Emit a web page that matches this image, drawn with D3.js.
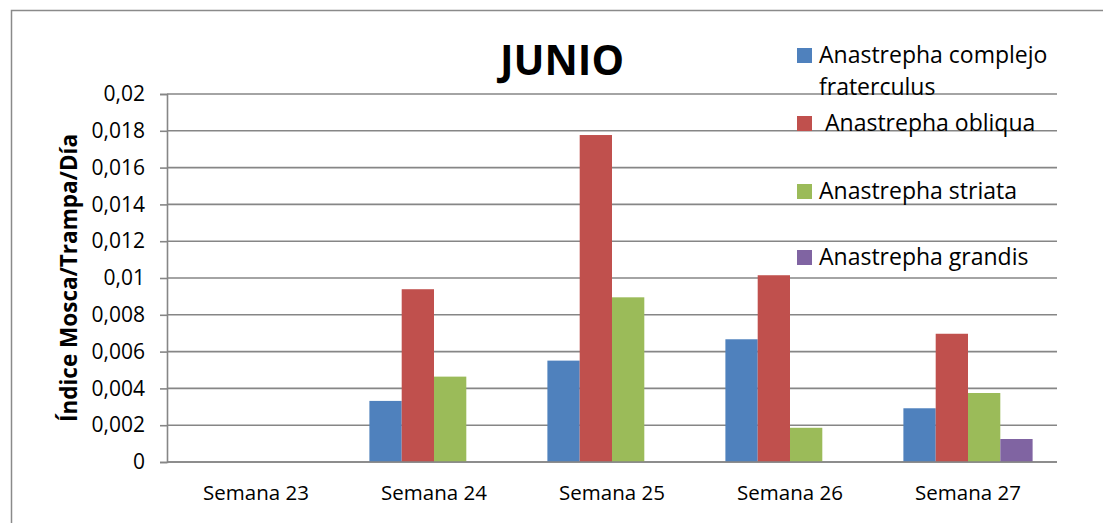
<!DOCTYPE html>
<html>
<head>
<meta charset="utf-8">
<script src="https://cdn.jsdelivr.net/npm/d3@7"></script>
<style>
  body { margin: 0; background: #fff; }
  text { font-family: "Open Sans", sans-serif; fill: #000; }
</style>
</head>
<body>
<script>
// data
var weeks = ["Semana 23", "Semana 24", "Semana 25", "Semana 26", "Semana 27"];
var seriesNames = ["Anastrepha complejo fraterculus", "Anastrepha obliqua", "Anastrepha striata", "Anastrepha grandis"];
var fraterculus = [0, 0.00332, 0.00551, 0.00667, 0.00292];
var obliqua     = [0, 0.00939, 0.01777, 0.01015, 0.00697];
var striata     = [0, 0.00464, 0.00895, 0.00186, 0.00375];
var grandis     = [0, 0, 0, 0, 0.00125];
var yTicks = [0, 0.002, 0.004, 0.006, 0.008, 0.01, 0.012, 0.014, 0.016, 0.018, 0.02];
var colors = ["#4F81BD", "#C0504D", "#9BBB59", "#8064A2"];

window.onload = function(){
    var w = 1103, h = 523;
    var left = 167, right = 1057, top = 94, bottom = 462;

    var svg = d3.select("body").append("svg")
        .attr("width", w)
        .attr("height", h);

    // outer chart frame (only left and top edges are visible)
    svg.append("path")
        .attr("d", "M11.5," + h + "V10.5H" + (w + 2))
        .attr("fill", "none")
        .attr("stroke", "#8a8a8a")
        .attr("stroke-width", 1.5);

    var allSeries = [fraterculus, obliqua, striata, grandis];

    var x0 = d3.scaleBand().domain(weeks).range([left, right]).padding(0);
    var x1 = d3.scaleBand().domain(d3.range(seriesNames.length))
        .range([0, x0.bandwidth()])
        .paddingInner(0)
        .paddingOuter(0.755);
    var y = d3.scaleLinear().domain([0, 0.02]).range([bottom, top]);

    var locale = d3.formatLocale({decimal: ",", thousands: ".", grouping: [3], currency: ["", ""]});
    var fmt = locale.format("~g");

    // gridlines
    svg.append("g").selectAll("line")
        .data(yTicks)
        .enter().append("line")
        .attr("x1", left).attr("x2", right)
        .attr("y1", function(d){ return y(d); })
        .attr("y2", function(d){ return y(d); })
        .attr("stroke", "#868686")
        .attr("stroke-width", 1.6);

    // bars
    var rows = [];
    weeks.forEach(function(wk, i){
        allSeries.forEach(function(s, j){
            rows.push({week: wk, s: j, v: s[i]});
        });
    });
    svg.append("g").selectAll("rect")
        .data(rows.filter(function(d){ return d.v > 0; }))
        .enter().append("rect")
        .attr("x", function(d){ return x0(d.week) + x1(d.s); })
        .attr("width", x1.bandwidth())
        .attr("y", function(d){ return y(d.v); })
        .attr("height", function(d){ return bottom - y(d.v); })
        .attr("fill", function(d){ return colors[d.s]; });

    // y axis
    var yAxis = d3.axisLeft(y).tickValues(yTicks).tickFormat(fmt).tickSize(7).tickPadding(15);
    var ya = svg.append("g")
        .attr("transform", "translate(" + left + ",0)")
        .call(yAxis);
    ya.select(".domain").attr("stroke", "#868686").attr("stroke-width", 1.6);
    ya.selectAll(".tick line").attr("stroke", "#868686").attr("stroke-width", 1.6);
    ya.selectAll("text").style("font-size", "21px").attr("fill", "#000");

    // baseline on top of bars
    svg.append("line")
        .attr("x1", left).attr("x2", right)
        .attr("y1", bottom).attr("y2", bottom)
        .attr("stroke", "#868686").attr("stroke-width", 1.6);

    // x labels
    svg.append("g").selectAll("text")
        .data(weeks)
        .enter().append("text")
        .attr("x", function(d){ return x0(d) + x0.bandwidth() / 2; })
        .attr("y", 500)
        .attr("text-anchor", "middle")
        .style("font-size", "20.5px")
        .text(function(d){ return d; });

    // y title
    svg.append("text")
        .attr("transform", "translate(77," + ((top + bottom) / 2) + ") rotate(-90)")
        .attr("text-anchor", "middle")
        .style("font-size", "22.5px")
        .style("font-weight", "bold")
        .text("Índice Mosca/Trampa/Día");

    // title
    svg.append("text")
        .attr("x", 562)
        .attr("y", 75)
        .attr("text-anchor", "middle")
        .style("font-size", "41px")
        .style("font-weight", "bold")
        .text("JUNIO");

    // legend
    var legY = [63, 131, 199, 265];
    var legend = svg.append("g");
    seriesNames.forEach(function(name, i){
        legend.append("rect")
            .attr("x", 797).attr("y", legY[i] - 15)
            .attr("width", 15).attr("height", 15)
            .attr("fill", colors[i]);
        var t = legend.append("text")
            .attr("x", i === 1 ? 825 : 819)
            .attr("y", legY[i])
            .style("font-size", "23px");
        if (i === 0) {
            t.append("tspan").attr("x", 819).text("Anastrepha complejo");
            t.append("tspan").attr("x", 819).attr("dy", 32).text("fraterculus");
        } else {
            t.text(name);
        }
    });
};
</script>
</body>
</html>
